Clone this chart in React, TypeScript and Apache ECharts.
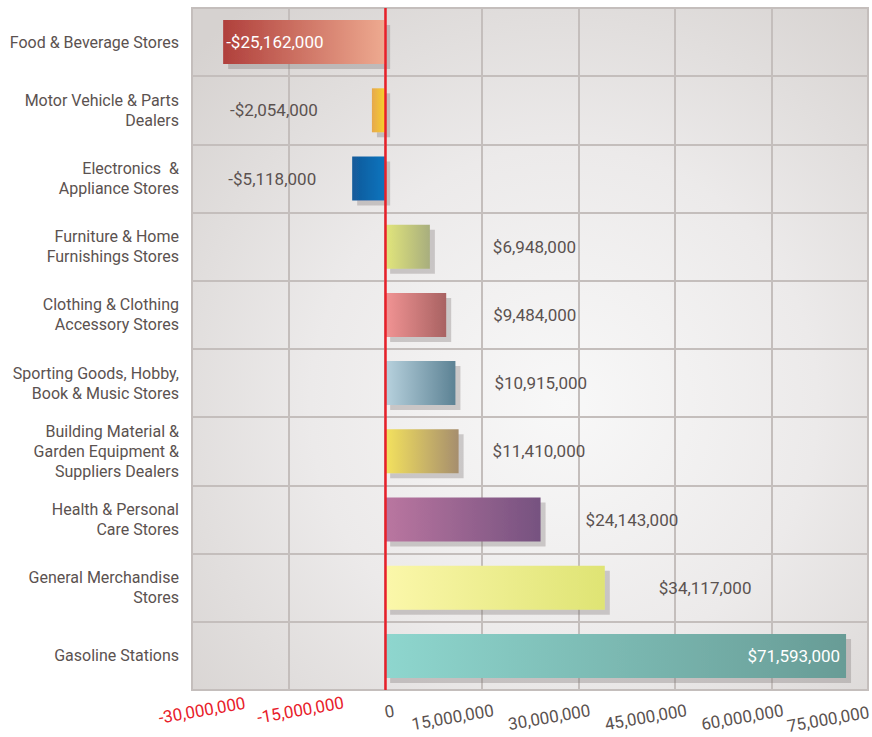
import React, { useEffect, useRef } from "react";
import * as echarts from "echarts";

const categories = [
  "Food & Beverage Stores",
  "Motor Vehicle & Parts\nDealers",
  "Electronics  &\nAppliance Stores",
  "Furniture & Home\nFurnishings Stores",
  "Clothing & Clothing\nAccessory Stores",
  "Sporting Goods, Hobby,\nBook & Music Stores",
  "Building Material &\nGarden Equipment &\nSuppliers Dealers",
  "Health & Personal\nCare Stores",
  "General Merchandise\nStores",
  "Gasoline Stations",
];

const values = [
  -25162000, -2054000, -5118000, 6948000, 9484000, 10915000, 11410000,
  24143000, 34117000, 71593000,
];

const barGradients = [
  ["#b0403c", "#eeaa90"],
  ["#e6a84e", "#f8d02a"],
  ["#135a9a", "#0a74be"],
  ["#e2e67a", "#a8ae7e"],
  ["#f29494", "#a86262"],
  ["#b8d2de", "#5c8294"],
  ["#f4e25e", "#a68e6e"],
  ["#ba76a0", "#765280"],
  ["#fbf7aa", "#dfe474"],
  ["#8ed6ce", "#689c96"],
];

// label placement per bar: [position, distance, inside]
const labelPlacement: [string, number, boolean][] = [
  ["insideLeft", 3, true],
  ["left", 54, false],
  ["left", 36, false],
  ["right", 63, false],
  ["right", 47, false],
  ["right", 39, false],
  ["right", 34, false],
  ["right", 45, false],
  ["right", 54, false],
  ["insideRight", 6, true],
];

const xMin = -30000000;
const xMax = 75000000;
const xInterval = 15000000;

// tick label style key by tick value
const tickStyleKeys: Record<string, string> = {
  "-30000000": "n30",
  "-15000000": "n15",
  "0": "z",
  "15000000": "p",
  "30000000": "p",
  "45000000": "p",
  "60000000": "p",
  "75000000": "pe",
};

const FONT = "Roboto, 'Liberation Sans', sans-serif";
const FS = 17;
const TEXT = "#5b5250";
const RED = "#e8202a";
const GRID_LINE = "#c4bebc";

const fmt = (v: number) =>
  Math.abs(v).toString().replace(/\B(?=(\d{3})+(?!\d))/g, ",");

export default function App() {
  const ref = useRef<HTMLDivElement>(null);

  useEffect(() => {
    document.body.style.margin = "0";
    if (!ref.current) return;
    const chart = echarts.init(ref.current, null, { renderer: "svg" });

    const data = values.map((v, i) => {
      const [pos, dist, inside] = labelPlacement[i];
      return {
        value: v,
        itemStyle: {
          color: {
            type: "linear",
            x: 0,
            y: 0,
            x2: 1,
            y2: 0,
            colorStops: [
              { offset: 0, color: barGradients[i][0] },
              { offset: 1, color: barGradients[i][1] },
            ],
          },
        },
        label: {
          show: true,
          position: pos,
          distance: dist,
          color: inside ? "#ffffff" : TEXT,
        },
      };
    });

    const tickRich = (w: number, color: string) => ({
      width: w,
      align: "right",
      color,
      fontSize: FS,
      fontFamily: FONT,
    });

    chart.setOption({
      animation: false,
      backgroundColor: "#ffffff",
      grid: {
        left: 192,
        right: 4,
        top: 8,
        bottom: 47,
        containLabel: false,
        outerBoundsMode: "none",
        show: true,
        borderColor: GRID_LINE,
        borderWidth: 2,
        backgroundColor: {
          type: "radial",
          x: 0.55,
          y: 0.58,
          r: 0.75,
          colorStops: [
            { offset: 0, color: "#f8f8f8" },
            { offset: 0.5, color: "#eceaea" },
            { offset: 1, color: "#d6d2d0" },
          ],
        },
      },
      xAxis: {
        type: "value",
        min: xMin,
        max: xMax,
        interval: xInterval,
        axisLine: { show: false },
        axisTick: { show: false },
        splitLine: { show: true, lineStyle: { color: GRID_LINE, width: 2 } },
        axisLabel: {
          rotate: 10,
          margin: 22,
          align: "left",
          showMinLabel: true,
          showMaxLabel: true,
          hideOverlap: false,
          fontFamily: FONT,
          fontSize: FS,
          color: TEXT,
          formatter: (v: number) => {
            const key = tickStyleKeys[String(v)] || "p";
            const txt = (v < 0 ? "-" : "") + fmt(v);
            return `{${key}|${txt}}`;
          },
          rich: {
            n30: tickRich(54, RED),
            n15: tickRich(56, RED),
            z: tickRich(9, TEXT),
            p: tickRich(12, TEXT),
            pe: tickRich(1, TEXT),
          },
        },
      },
      yAxis: {
        type: "category",
        data: categories,
        inverse: true,
        axisLine: { show: false },
        axisTick: { show: false },
        splitLine: { show: true, lineStyle: { color: GRID_LINE, width: 2 } },
        axisLabel: {
          margin: 13,
          fontFamily: FONT,
          fontSize: 16,
          lineHeight: 20,
          color: TEXT,
          align: "right",
        },
      },
      series: [
        {
          type: "bar",
          data,
          barWidth: 44,
          itemStyle: {
            shadowColor: "rgba(120,110,110,0.32)",
            shadowOffsetX: 5,
            shadowOffsetY: 5,
            shadowBlur: 0,
          },
          label: {
            show: true,
            fontFamily: FONT,
            fontSize: FS,
            formatter: (p: any) =>
              (p.value < 0 ? "-$" : "$") + fmt(p.value as number),
          },
          markLine: {
            silent: true,
            symbol: "none",
            label: { show: false },
            lineStyle: { color: RED, width: 2.5, type: "solid" },
            data: [{ xAxis: 0 }],
          },
        },
      ],
    });

    return () => chart.dispose();
  }, []);

  return <div ref={ref} style={{ width: 872, height: 737 }} />;
}
